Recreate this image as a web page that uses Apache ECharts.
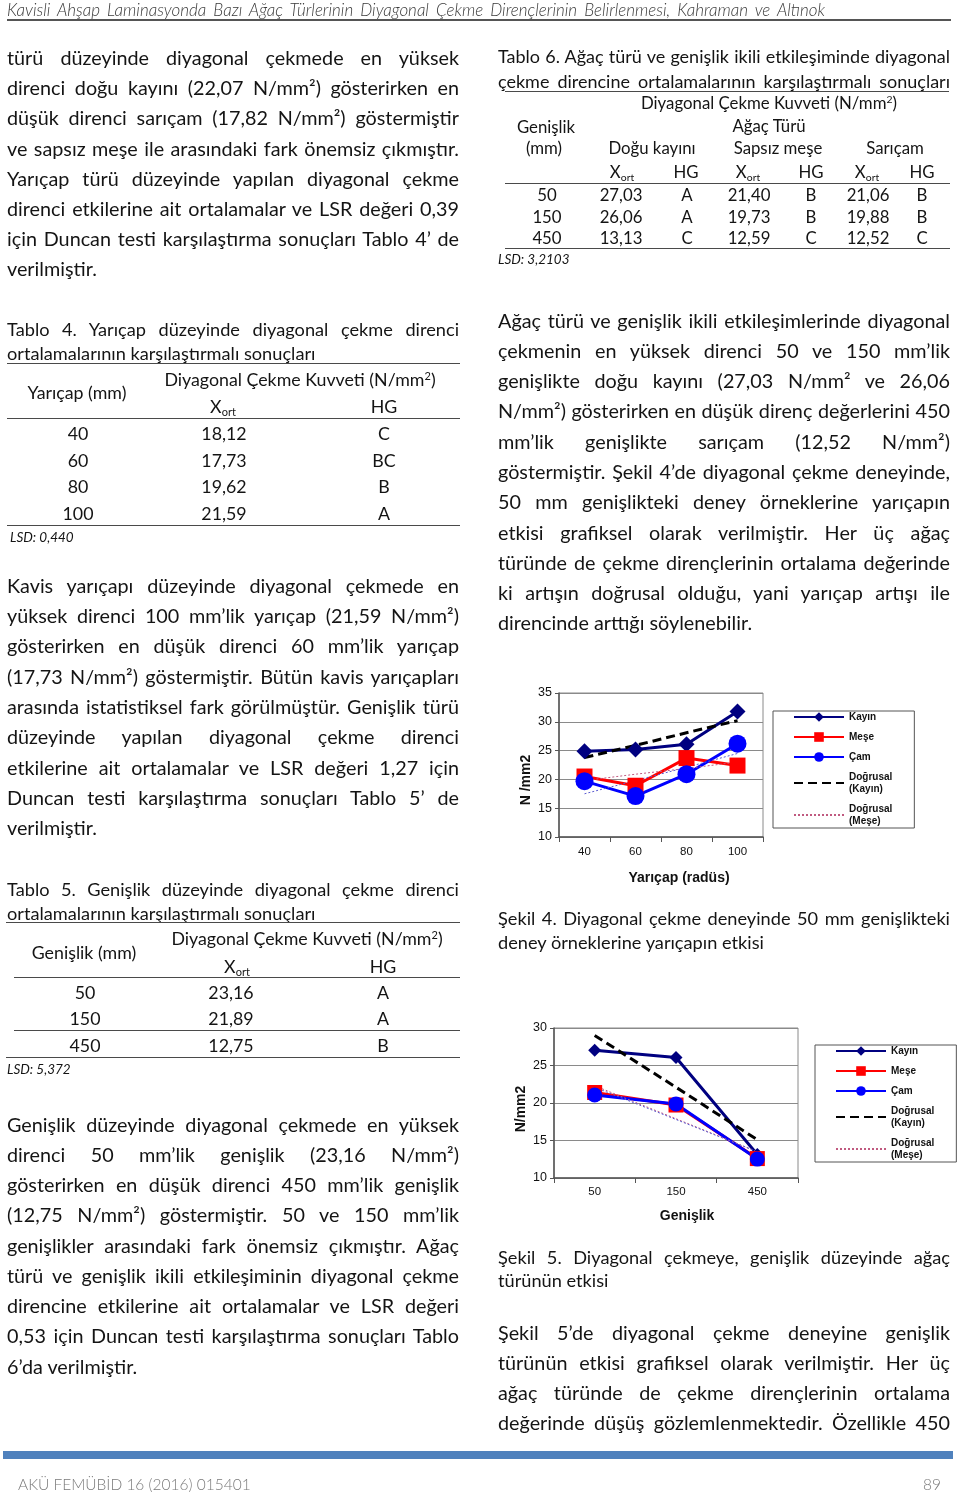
<!DOCTYPE html>
<html><head><meta charset="utf-8">
<script src="https://cdn.jsdelivr.net/npm/echarts@6/dist/echarts.min.js"></script>
<style>
html,body{margin:0;padding:0;background:#fff;}
#page{position:relative;width:960px;height:1494px;overflow:hidden;font-family:Lato,'Open Sans',sans-serif;color:#141414;}
#chart{position:absolute;left:0;top:0;width:960px;height:1494px;}
.ln{position:absolute;white-space:nowrap;}
.j{text-align:justify;text-align-last:justify;white-space:normal;overflow:hidden;}
.hr{position:absolute;height:0;border-top:1.5px solid #4a4a4a;}
sub{font-size:0.62em;vertical-align:-0.25em;line-height:0}
sup{font-size:0.62em;vertical-align:0.55em;line-height:0}
</style></head>
<body><div id="page"><div id="chart"></div></div>
<script>
// ---- chart data ----
const radiusCats = ['40', '60', '80', '100'];
const kayinR = [24.9, 25.2, 26.1, 31.8];
const meseR = [20.5, 18.9, 23.7, 22.4];
const camR = [19.7, 17.1, 20.9, 26.2];
const kayinTrendR = [23.8, 25.9, 28.1, 30.2];
const meseTrendR = [19.8, 20.9, 21.9, 23.0];
const camTrendR = [17.5, 19.8, 22.1, 24.5];

const widthCats = ['50', '150', '450'];
const kayinW = [27.03, 26.06, 13.13];
const meseW = [21.40, 19.73, 12.59];
const camW = [21.06, 19.88, 12.52];
const kayinTrendW = [29.0, 22.1, 15.1];
const meseTrendW = [22.3, 17.9, 13.5];
const camTrendW = [22.1, 17.8, 13.5];

const legendNames = ['Kayın', 'Meşe', 'Çam', 'Doğrusal (Kayın)', 'Doğrusal (Meşe)'];

// ---- page text ----
const page = document.getElementById('page');
function add(html, x, y, opt) {
  opt = opt || {};
  const d = document.createElement('div');
  const size = opt.size || 19.5;
  const lh = opt.lh || Math.round(size * 1.3);
  d.className = 'ln' + (opt.j ? ' j' : '');
  d.style.fontSize = size + 'px';
  d.style.lineHeight = lh + 'px';
  d.style.top = (y - lh / 2) + 'px';
  if (opt.italic) d.style.fontStyle = 'italic';
  if (opt.weight) d.style.fontWeight = opt.weight;
  if (opt.color) d.style.color = opt.color;
  if (opt.j) { d.style.left = x + 'px'; d.style.width = opt.w + 'px'; d.style.height = lh + 'px'; }
  else if (opt.center) { d.style.left = (x - 200) + 'px'; d.style.width = '400px'; d.style.textAlign = 'center'; }
  else if (opt.right) { d.style.left = (x - 400) + 'px'; d.style.width = '400px'; d.style.textAlign = 'right'; }
  else d.style.left = x + 'px';
  d.innerHTML = html;
  page.appendChild(d);
}
function hr(x1, x2, y, color, h) {
  const d = document.createElement('div');
  d.className = 'hr';
  d.style.left = x1 + 'px'; d.style.width = (x2 - x1) + 'px'; d.style.top = y + 'px';
  if (color) d.style.borderTopColor = color;
  if (h) d.style.borderTopWidth = h + 'px';
  page.appendChild(d);
}
function para(x, ys, lines, size) {
  lines.forEach((t, i) => add(t, x, ys[i], {j: i < lines.length - 1, w: 452, size: size}));
}
function paraFull(x, ys, lines, size) {
  lines.forEach((t, i) => add(t, x, ys[i], {j: true, w: 452, size: size}));
}

// header
add('Kavisli Ahşap Laminasyonda Bazı Ağaç Türlerinin Diyagonal Çekme Dirençlerinin Belirlenmesi, Kahraman ve Altınok', 7, 10,
  {j: true, w: 818, size: 17, italic: true, weight: 300, color: '#3a3a3a'});
hr(7, 951, 19, '#555', 2);

const BS = 19.8;
para(7, [57, 87, 117, 148, 178, 208, 238, 268], [
  'türü düzeyinde diyagonal çekmede en yüksek',
  'direnci doğu kayını (22,07 N/mm²) gösterirken en',
  'düşük direnci sarıçam (17,82 N/mm²) göstermiştir',
  've sapsız meşe ile arasındaki fark önemsiz çıkmıştır.',
  'Yarıçap türü düzeyinde yapılan diyagonal çekme',
  'direnci etkilerine ait ortalamalar ve LSR değeri 0,39',
  'için Duncan testi karşılaştırma sonuçları Tablo 4’ de',
  'verilmiştir.'], BS);

// Table 4
const TS = 18.2;
const TC = 17.8;
para(7, [329, 353], ['Tablo 4. Yarıçap düzeyinde diyagonal çekme direnci', 'ortalamalarının karşılaştırmalı sonuçları'], TS);
hr(7, 460, 363);
add('Diyagonal Çekme Kuvveti (N/mm<sup>2</sup>)', 300, 379, {center: true, size: TC});
add('Yarıçap (mm)', 77, 392, {center: true, size: TC});
add('X<sub>ort</sub>', 223, 406, {center: true, size: TC});
add('HG', 384, 406, {center: true, size: TC});
hr(7, 460, 418);
[['40', '18,12', 'C', 433], ['60', '17,73', 'BC', 460], ['80', '19,62', 'B', 486], ['100', '21,59', 'A', 513]].forEach(r => {
  add(r[0], 78, r[3], {center: true, size: TC});
  add(r[1], 224, r[3], {center: true, size: TC});
  add(r[2], 384, r[3], {center: true, size: TC});
});
hr(7, 460, 525);
add('LSD: 0,440', 10, 537, {italic: true, size: 13.5});

para(7, [585, 615, 645, 676, 706, 736, 767, 797, 827], [
  'Kavis yarıçapı düzeyinde diyagonal çekmede en',
  'yüksek direnci 100 mm’lik yarıçap (21,59 N/mm²)',
  'gösterirken en düşük direnci 60 mm’lik yarıçap',
  '(17,73 N/mm²) göstermiştir. Bütün kavis yarıçapları',
  'arasında istatistiksel fark görülmüştür. Genişlik türü',
  'düzeyinde yapılan diyagonal çekme direnci',
  'etkilerine ait ortalamalar ve LSR değeri 1,27 için',
  'Duncan testi karşılaştırma sonuçları Tablo 5’ de',
  'verilmiştir.'], BS);

// Table 5
para(7, [889, 913], ['Tablo 5. Genişlik düzeyinde diyagonal çekme direnci', 'ortalamalarının karşılaştırmalı sonuçları'], TS);
hr(6, 460, 922);
add('Diyagonal Çekme Kuvveti (N/mm<sup>2</sup>)', 307, 938, {center: true, size: TC});
add('Genişlik (mm)', 84, 952, {center: true, size: TC});
add('X<sub>ort</sub>', 237, 966, {center: true, size: TC});
add('HG', 383, 966, {center: true, size: TC});
hr(14, 460, 977);
[['50', '23,16', 'A', 992], ['150', '21,89', 'A', 1018], ['450', '12,75', 'B', 1045]].forEach(r => {
  add(r[0], 85, r[3], {center: true, size: TC});
  add(r[1], 231, r[3], {center: true, size: TC});
  add(r[2], 383, r[3], {center: true, size: TC});
});
hr(14, 460, 1030);
hr(6, 460, 1057);
add('LSD: 5,372', 7, 1069, {italic: true, size: 13.5});

para(7, [1124, 1154, 1184, 1214, 1245, 1275, 1305, 1335, 1366], [
  'Genişlik düzeyinde diyagonal çekmede en yüksek',
  'direnci 50 mm’lik genişlik (23,16 N/mm²)',
  'gösterirken en düşük direnci 450 mm’lik genişlik',
  '(12,75 N/mm²) göstermiştir. 50 ve 150 mm’lik',
  'genişlikler arasındaki fark önemsiz çıkmıştır. Ağaç',
  'türü ve genişlik ikili etkileşiminin diyagonal çekme',
  'direncine etkilerine ait ortalamalar ve LSR değeri',
  '0,53 için Duncan testi karşılaştırma sonuçları Tablo',
  '6’da verilmiştir.'], BS);

// Table 6
const T6 = 16.8;
paraFull(498, [56, 81], ['Tablo 6. Ağaç türü ve genişlik ikili etkileşiminde diyagonal', 'çekme direncine ortalamalarının karşılaştırmalı sonuçları'], 18);
hr(505, 949, 91);
add('Diyagonal Çekme Kuvveti (N/mm<sup>2</sup>)', 769, 103, {center: true, size: T6});
add('Genişlik', 546, 127, {center: true, size: T6});
add('Ağaç Türü', 769, 126, {center: true, size: T6});
add('(mm)', 544, 148, {center: true, size: T6});
add('Doğu kayını', 652, 148, {center: true, size: T6});
add('Sapsız meşe', 778, 148, {center: true, size: T6});
add('Sarıçam', 895, 148, {center: true, size: T6});
[622, 748, 867].forEach(x => add('X<sub>ort</sub>', x, 172, {center: true, size: T6}));
[686, 811, 922].forEach(x => add('HG', x, 172, {center: true, size: T6}));
hr(505, 950, 183);
[['50', '27,03', 'A', '21,40', 'B', '21,06', 'B', 195],
 ['150', '26,06', 'A', '19,73', 'B', '19,88', 'B', 217],
 ['450', '13,13', 'C', '12,59', 'C', '12,52', 'C', 238]].forEach(r => {
  const xs = [547, 621, 687, 749, 811, 868, 922];
  for (let i = 0; i < 7; i++) add(r[i], xs[i], r[7], {center: true, size: T6});
});
hr(505, 950, 248);
add('LSD: 3,2103', 498, 259, {italic: true, size: 13.5});

para(498, [320, 350, 380, 410, 441, 471, 501, 532, 562, 592, 622], [
  'Ağaç türü ve genişlik ikili etkileşimlerinde diyagonal',
  'çekmenin en yüksek direnci 50 ve 150 mm’lik',
  'genişlikte doğu kayını (27,03 N/mm² ve 26,06',
  'N/mm²) gösterirken en düşük direnç değerlerini 450',
  'mm’lik genişlikte sarıçam (12,52 N/mm²)',
  'göstermiştir. Şekil 4’de diyagonal çekme deneyinde,',
  '50 mm genişlikteki deney örneklerine yarıçapın',
  'etkisi grafiksel olarak verilmiştir. Her üç ağaç',
  'türünde de çekme dirençlerinin ortalama değerinde',
  'ki artışın doğrusal olduğu, yani yarıçap artışı ile',
  'direncinde arttığı söylenebilir.'], BS);

para(498, [918, 942], ['Şekil 4. Diyagonal çekme deneyinde 50 mm genişlikteki', 'deney örneklerine yarıçapın etkisi'], TS);
para(498, [1257, 1280], ['Şekil 5. Diyagonal çekmeye, genişlik düzeyinde ağaç', 'türünün etkisi'], TS);

paraFull(498, [1332, 1362, 1392, 1422], [
  'Şekil 5’de diyagonal çekme deneyine genişlik',
  'türünün etkisi grafiksel olarak verilmiştir. Her üç',
  'ağaç türünde de çekme dirençlerinin ortalama',
  'değerinde düşüş gözlemlenmektedir. Özellikle 450'], BS);

// footer
const bar = document.createElement('div');
bar.style.cssText = 'position:absolute;left:3px;top:1451px;width:950px;height:8px;background:#4f81bd;';
page.appendChild(bar);
add('AKÜ FEMÜBİD 16 (2016) 015401', 18, 1484, {size: 15.5, weight: 300, color: '#7a7a7a'});
add('89', 941, 1484, {right: true, size: 15.5, weight: 300, color: '#7a7a7a'});

// ---- charts ----
const FF = "'Liberation Sans', Arial, sans-serif";
function xAx(gi, data, name, nameGap, pad, margin) {
  return {
    type: 'category', gridIndex: gi, data: data, boundaryGap: true,
    axisLine: {show: true, lineStyle: {color: '#555', width: 1.5}},
    axisTick: {show: true, length: 5, lineStyle: {color: '#555'}},
    axisLabel: {fontFamily: FF, fontSize: 11.5, color: '#111', margin: margin},
    splitLine: {show: false},
    name: name, nameLocation: 'middle', nameGap: nameGap,
    nameTextStyle: {fontFamily: FF, fontSize: 14, fontWeight: 'bold', color: '#111', padding: pad}
  };
}
function yAx(gi, min, max, name, nameGap, pad) {
  return {
    type: 'value', gridIndex: gi, min: min, max: max, interval: 5,
    axisLine: {show: true, lineStyle: {color: '#555', width: 1.5}},
    axisTick: {show: true, length: 4, lineStyle: {color: '#555'}},
    axisLabel: {fontFamily: FF, fontSize: 12.5, color: '#111', margin: 7},
    splitLine: {show: true, lineStyle: {color: '#8a8a8a', width: 1}},
    name: name, nameLocation: 'middle', nameGap: nameGap, nameRotate: 90,
    nameTextStyle: {fontFamily: FF, fontSize: 14, fontWeight: 'bold', color: '#111', padding: pad}
  };
}
function ser(name, gi, data, color, symbol, size, width, type) {
  return {
    name: name, type: 'line', xAxisIndex: gi, yAxisIndex: gi, data: data,
    symbol: symbol, symbolSize: size, showSymbol: symbol !== 'none',
    lineStyle: {color: color, width: width, type: type || 'solid'},
    itemStyle: {color: color},
    emphasis: {disabled: true}
  };
}
function leg(left, top) {
  return {
    data: legendNames.map(n => n.indexOf('Doğrusal') === 0 ? {name: n, itemStyle: {opacity: 0}} : {name: n}),
    left: left, top: top, orient: 'vertical',
    itemWidth: 50, itemHeight: 12, itemGap: 8, padding: [0, 22, 1, 20],
    borderColor: '#555', borderWidth: 1, backgroundColor: '#fff', borderRadius: 0,
    selectedMode: false,
    formatter: n => n.replace(' (', '\n('),
    textStyle: {fontFamily: FF, fontSize: 10, fontWeight: 'bold', color: '#111', lineHeight: 12}
  };
}
const chart = echarts.init(document.getElementById('chart'));
chart.setOption({
  animation: false,
  grid: [
    {left: 559, top: 693, width: 204, height: 144, show: true, borderColor: '#8a8a8a', borderWidth: 1},
    {left: 554, top: 1028, width: 244, height: 150, show: true, borderColor: '#8a8a8a', borderWidth: 1}
  ],
  xAxis: [
    xAx(0, radiusCats, 'Yarıçap (radüs)', 34, [0, 0, 0, 36], 9),
    xAx(1, widthCats, 'Genişlik', 31, [0, 0, 0, 22], 8)
  ],
  yAxis: [
    yAx(0, 10, 35, 'N /mm2', 26, [0, 30, 0, 0]),
    yAx(1, 10, 30, 'N/mm2', 26, [0, 12, 0, 0])
  ],
  legend: [leg(773, 711), leg(815, 1045)],
  series: [
    ser('Kayın', 0, kayinR, '#000080', 'diamond', 16, 3),
    ser('Meşe', 0, meseR, '#ff0000', 'rect', 16, 3),
    ser('Çam', 0, camR, '#0000ff', 'circle', 18, 3),
    ser('Doğrusal (Kayın)', 0, kayinTrendR, '#000000', 'none', 0, 3, [9, 5]),
    ser('Doğrusal (Meşe)', 0, meseTrendR, '#c05a80', 'none', 0, 1, [2, 2]),
    ser('Doğrusal (Çam)', 0, camTrendR, '#5a5ad0', 'none', 0, 1, [2, 2]),
    ser('Kayın', 1, kayinW, '#000080', 'diamond', 13, 3),
    ser('Meşe', 1, meseW, '#ff0000', 'rect', 15, 3),
    ser('Çam', 1, camW, '#0000ff', 'circle', 15, 3),
    ser('Doğrusal (Kayın)', 1, kayinTrendW, '#000000', 'none', 0, 3, [9, 5]),
    ser('Doğrusal (Meşe)', 1, meseTrendW, '#c05a80', 'none', 0, 1, [2, 2]),
    ser('Doğrusal (Çam)', 1, camTrendW, '#5a5ad0', 'none', 0, 1, [2, 2])
  ]
});
</script></body></html>
